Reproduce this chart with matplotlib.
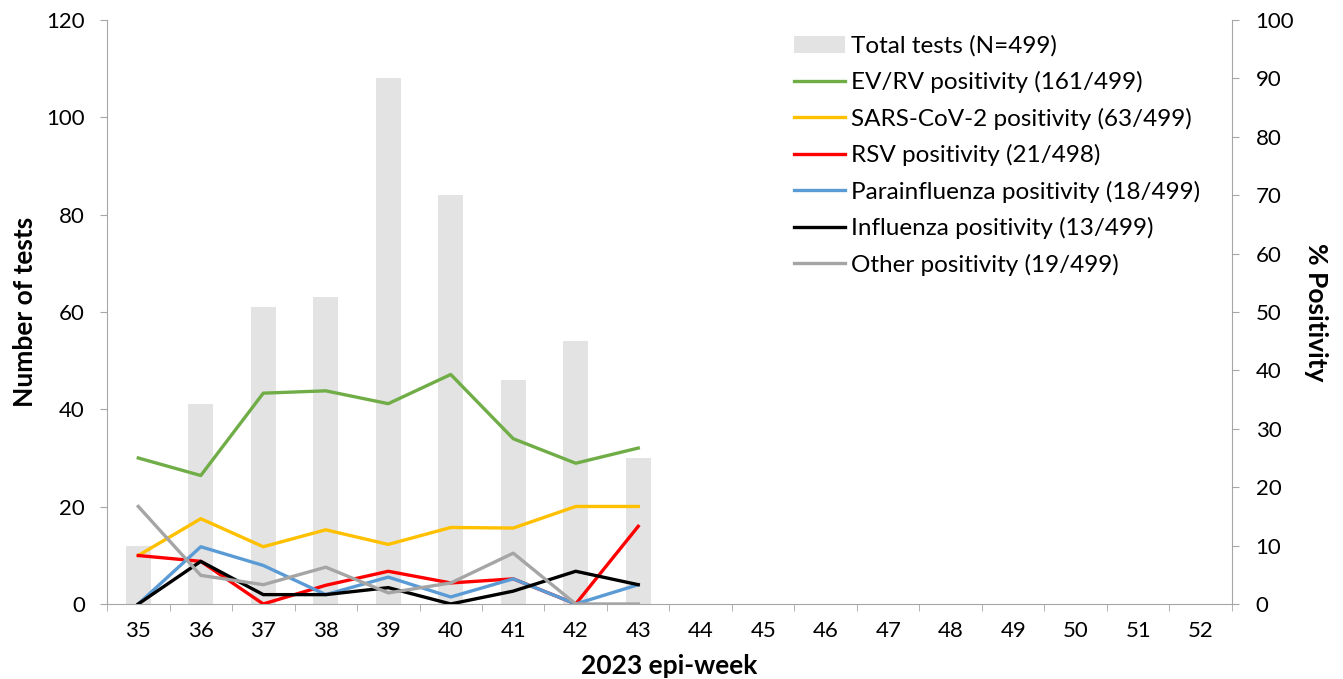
import matplotlib
matplotlib.use("Agg")
import matplotlib.pyplot as plt
import numpy as np
from matplotlib.ticker import FixedLocator, NullFormatter

plt.rcParams["font.family"] = ["Lato", "DejaVu Sans"]

weeks_all = list(range(35, 53))
weeks = [35, 36, 37, 38, 39, 40, 41, 42, 43]
total_tests = [12, 41, 61, 63, 108, 84, 46, 54, 30]

ev_rv = [25.0, 22.0, 36.1, 36.5, 34.3, 39.3, 28.3, 24.1, 26.7]
sars_cov2 = [8.3, 14.6, 9.8, 12.7, 10.2, 13.1, 13.0, 16.7, 16.7]
rsv = [8.3, 7.3, 0.0, 3.2, 5.6, 3.6, 4.3, 0.0, 13.3]
parainfluenza = [0.0, 9.8, 6.6, 1.6, 4.6, 1.2, 4.3, 0.0, 3.3]
influenza = [0.0, 7.3, 1.6, 1.6, 2.8, 0.0, 2.2, 5.6, 3.3]
other = [16.7, 4.9, 3.3, 6.3, 1.9, 3.6, 8.7, 0.0, 0.0]

series = [
    ("EV/RV positivity (161/499)", ev_rv, "#70ad47"),
    ("SARS-CoV-2 positivity (63/499)", sars_cov2, "#ffc000"),
    ("RSV positivity (21/498)", rsv, "#ff0000"),
    ("Parainfluenza positivity (18/499)", parainfluenza, "#5b9bd5"),
    ("Influenza positivity (13/499)", influenza, "#000000"),
    ("Other positivity (19/499)", other, "#a5a5a5"),
]

spine_col = "#a6a6a6"
tick_fs = 16
leg_fs = 17.5
lab_fs = 19

fig = plt.figure(figsize=(13.43, 6.79), dpi=100)
ax = fig.add_axes([0.0797, 0.1105, 0.8376, 0.86])
ax2 = ax.twinx()

bars = ax.bar(weeks, total_tests, width=0.4, color="#e3e3e3", label="Total tests (N=499)", zorder=1)

handles = [bars]
for label, vals, col in series:
    (ln,) = ax2.plot(weeks, vals, color=col, lw=2.4, label=label, solid_joinstyle="round")
    handles.append(ln)

ax.set_xlim(34.5, 52.5)
ax.set_ylim(0, 120)
ax.set_yticks(np.arange(0, 121, 20))
ax2.set_ylim(0, 100)
ax2.set_yticks(np.arange(0, 101, 10))

ax.set_xticks(weeks_all)
ax.set_xticklabels([str(w) for w in weeks_all])
ax.xaxis.set_minor_locator(FixedLocator(np.arange(34.5, 53, 1)))
ax.xaxis.set_minor_formatter(NullFormatter())
ax.tick_params(axis="x", which="major", length=0, labelsize=tick_fs, pad=12)
ax.tick_params(axis="x", which="minor", length=5, color=spine_col, direction="out")
ax.tick_params(axis="y", length=5, color=spine_col, labelsize=tick_fs, pad=11)
ax2.tick_params(axis="y", length=5, color=spine_col, labelsize=tick_fs, pad=12)

for a in (ax, ax2):
    for side in ("left", "right", "bottom", "top"):
        a.spines[side].set_color(spine_col)
    a.spines["top"].set_visible(False)
ax.spines["right"].set_visible(False)
ax2.spines["left"].set_visible(False)
ax2.spines["bottom"].set_visible(False)

ax.set_ylabel("Number of tests", fontsize=lab_fs, fontweight="bold")
ax.yaxis.set_label_coords(-0.062, 0.5)
ax2.set_ylabel("% Positivity", fontsize=lab_fs, fontweight="bold", rotation=270, va="center")
ax2.yaxis.set_label_coords(1.075, 0.5)
ax.set_xlabel("2023 epi-week", fontsize=lab_fs, fontweight="bold")
ax.xaxis.set_label_coords(0.5, -0.085)

fig.legend(handles=handles, labels=[h.get_label() for h in handles],
           loc="upper left", bbox_to_anchor=(0.584, 0.962), frameon=False,
           fontsize=leg_fs, handlelength=2.1, handletextpad=0.25, labelspacing=0.59,
           borderaxespad=0)

fig.savefig("out.png", dpi=100)
